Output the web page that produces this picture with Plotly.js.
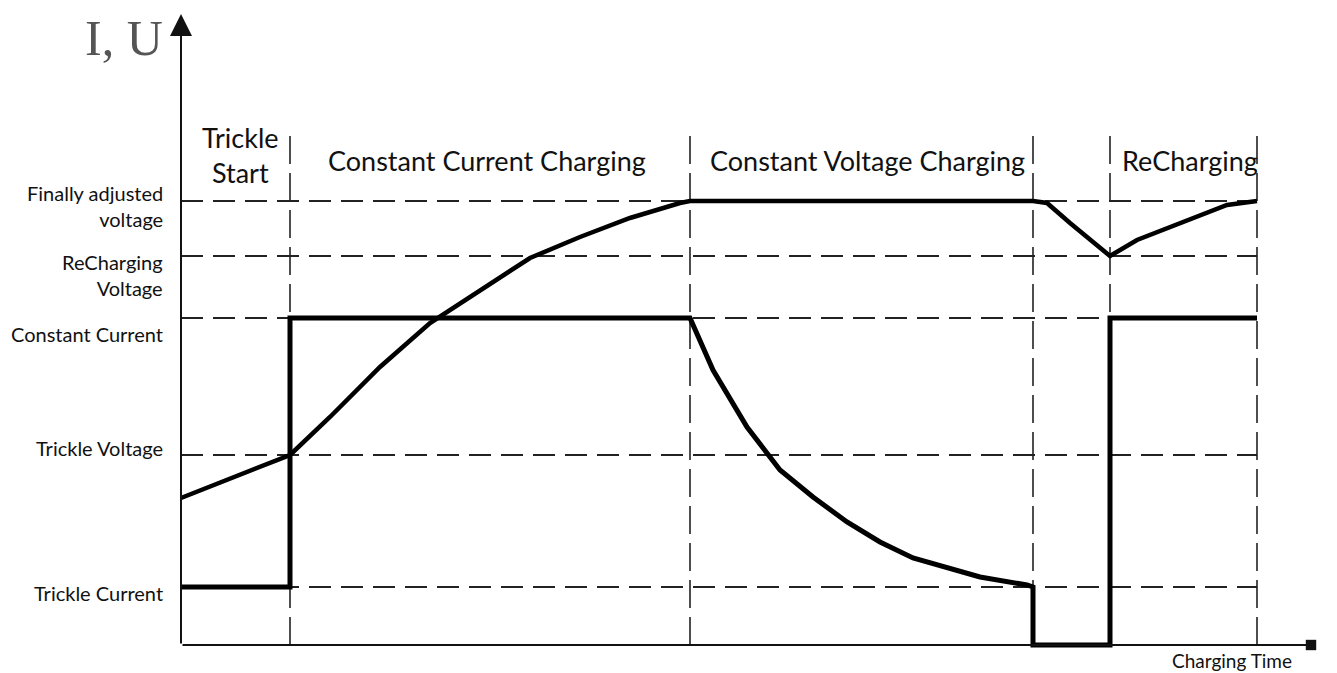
<!DOCTYPE html>
<html>
<head>
<meta charset="utf-8">
<script src="https://cdn.plot.ly/plotly-3.0.1.min.js"></script>
<style>html,body{margin:0;padding:0;background:#fff;}#chart{width:1337px;height:673px;}</style>
</head>
<body>
<div id="chart"></div>
<script>
// Time axis (arbitrary units) and I/U level (arbitrary units)
const voltageTime = [0, 10.9, 14.9, 19.9, 24.9, 29.9, 34.9, 39.9, 44.9, 49.9, 50.9, 85.2, 86.6, 88.9, 90.6, 92.9, 95.6, 98.9, 102.2, 104.6, 107.6];
const voltageValue = [14.7, 19.0, 22.8, 27.8, 32.2, 35.5, 38.7, 40.8, 42.7, 44.2, 44.4, 44.4, 44.2, 42.2, 40.8, 38.9, 40.5, 41.8, 43.0, 44.0, 44.4];

const currentTime = [0, 10.9, 10.9, 50.9, 53.2, 56.6, 59.9, 63.2, 66.6, 69.9, 73.2, 76.6, 79.9, 84.6, 85.2, 85.2, 92.9, 92.9, 107.6];
const currentValue = [5.8, 5.8, 32.7, 32.7, 27.5, 21.8, 17.5, 14.8, 12.3, 10.3, 8.7, 7.7, 6.8, 6.0, 5.8, 0, 0, 32.7, 32.7];

const levelNames = ["Finally adjusted<br>voltage", "ReCharging<br>Voltage", "Constant Current", "Trickle Voltage", "Trickle Current"];
const levelValues = [44.4, 38.9, 32.7, 19.0, 5.8];
const levelLabelY = [43.9, 37.0, 31.1, 19.7, 5.2];

const phaseBoundaries = [10.9, 50.9, 85.2, 92.9, 107.6];
const phaseNames = ["Trickle<br>Start", "Constant Current Charging", "Constant Voltage Charging", "ReCharging"];
const phaseCenters = [5.9, 30.6, 68.6, 100.9];
const phaseLabelY = [49.0, 48.5, 48.5, 48.5];

const timeEnd = 107.6;
const dashTop = 51.7;

const X_RANGE = [-0.5, 113.2];
const Y_RANGE = [-0.6, 63.3];
const px = x => (x - X_RANGE[0]) / (X_RANGE[1] - X_RANGE[0]);
const py = y => (y - Y_RANGE[0]) / (Y_RANGE[1] - Y_RANGE[0]);

const shapes = [];
levelValues.forEach(v => shapes.push({type:'line', xref:'x', yref:'y', x0:0, x1:timeEnd, y0:v, y1:v,
  line:{color:'#222', width:2, dash:'22px,10px'}, layer:'below'}));
phaseBoundaries.forEach(t => shapes.push({type:'line', xref:'x', yref:'y', x0:t, x1:t, y0:0, y1:dashTop,
  line:{color:'#222', width:1.6, dash:'28px,9px'}, layer:'below'}));

const textFont = 'Lato, Open Sans, sans-serif';
const annotations = [];
// axes with arrows
annotations.push({x:0, y:63.1, ax:0, ay:0, axref:'x', ayref:'y', xref:'x', yref:'y', text:'', showarrow:true,
  arrowhead:2, arrowsize:2.2, arrowwidth:2, arrowcolor:'#111'});
annotations.push({x:113.0, y:0, ax:0, ay:0, axref:'x', ayref:'y', xref:'x', yref:'y', text:'', showarrow:true,
  arrowhead:7, arrowsize:1.3, arrowwidth:2, arrowcolor:'#111'});
annotations.push({x:px(-5.7), y:py(60.7), xref:'paper', yref:'paper', xanchor:'center', yanchor:'middle', text:'I, U', showarrow:false,
  font:{family:'Liberation Serif, DejaVu Serif, serif', size:50, color:'#555'}});
annotations.push({x:px(105.1), y:py(-1.5), xref:'paper', yref:'paper', xanchor:'center', yanchor:'middle', text:'Charging Time', showarrow:false,
  font:{family:textFont, size:19, color:'#111'}});
levelNames.forEach((n, i) => annotations.push({x:px(-1.6), y:py(levelLabelY[i]), xref:'paper', yref:'paper', text:n, showarrow:false,
  xanchor:'right', yanchor:'middle', align:'right', font:{family:textFont, size:20, color:'#111'}}));
phaseNames.forEach((n, i) => annotations.push({x:phaseCenters[i], y:phaseLabelY[i], xref:'x', yref:'y', text:n, showarrow:false,
  xanchor:'center', yanchor:'middle', font:{family:textFont, size:27, color:'#111'}}));

const data = [
  {x: voltageTime, y: voltageValue, mode:'lines', line:{color:'#000', width:4.5}, hoverinfo:'skip'},
  {x: currentTime, y: currentValue, mode:'lines', line:{color:'#000', width:5}, hoverinfo:'skip'}
];

const layout = {
  width:1337, height:673,
  margin:{l:176, r:24, t:12, b:22},
  paper_bgcolor:'#fff', plot_bgcolor:'#fff',
  showlegend:false,
  xaxis:{range:X_RANGE, showgrid:false, zeroline:false, showticklabels:false, ticks:'', showline:false},
  yaxis:{range:Y_RANGE, showgrid:false, zeroline:false, showticklabels:false, ticks:'', showline:false},
  shapes: shapes,
  annotations: annotations
};
Plotly.newPlot('chart', data, layout, {staticPlot:true});
</script>
</body>
</html>
